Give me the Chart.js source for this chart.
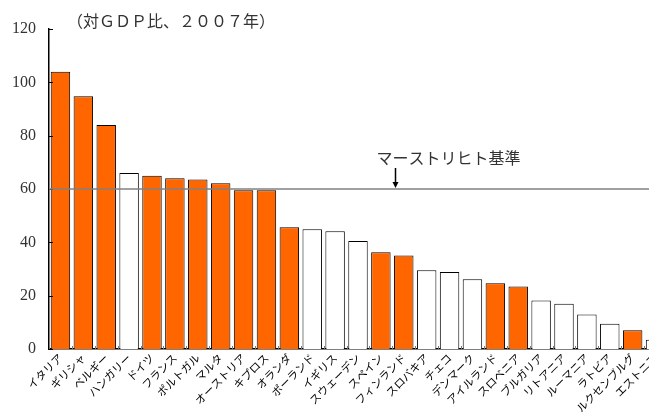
<!DOCTYPE html>
<html><head><meta charset="utf-8">
<script src="https://cdn.jsdelivr.net/npm/chart.js@4"></script>
<style>html,body{margin:0;padding:0;overflow:hidden;background:#fff}#w{width:668px;height:412px}</style>
</head><body><div id="w"><canvas id="c" width="668" height="412"></canvas></div>
<script>
const countries = ["イタリア","ギリシャ","ベルギー","ハンガリー","ドイツ","フランス","ポルトガル","マルタ","オーストリア","キプロス","オランダ","ポーランド","イギリス","スウェーデン","スペイン","フィンランド","スロバキア","チェコ","デンマーク","アイルランド","スロベニア","ブルガリア","リトアニア","ルーマニア","ラトビア","ルクセンブルグ","エストニア"];
const debtRatio = [104.0,94.8,84.0,66.0,65.0,64.0,63.6,62.2,59.5,59.5,45.7,44.9,44.2,40.5,36.3,35.1,29.5,28.9,26.2,24.7,23.4,18.2,17.0,12.9,9.5,7.0,3.5];
const euroMember = [1,1,1,0,1,1,1,1,1,1,1,0,0,0,1,1,0,0,0,1,1,0,0,0,0,1,0];
const yTicks = [0,20,40,60,80,100,120];
const criterion = 60;
const titleText = "（対ＧＤＰ比、２００７年）";
const criterionText = "マーストリヒト基準";

const overlay = {
  id:'overlay',
  afterDraw(chart){
    const ctx = chart.ctx, x = chart.scales.x, y = chart.scales.y, a = chart.chartArea;
    ctx.save();
    ctx.strokeStyle = '#000'; ctx.lineWidth = 1;
    yTicks.forEach(v=>{ const py = Math.round(y.getPixelForValue(v))+0.5; ctx.beginPath(); ctx.moveTo(a.left, py); ctx.lineTo(a.left+4, py); ctx.stroke(); });
    ctx.strokeStyle = '#777';
    for(let i=0;i<countries.length;i++){ const px = Math.round(x.getPixelForValue(i-0.5))+0.5; ctx.beginPath(); ctx.moveTo(px, a.bottom); ctx.lineTo(px, a.bottom-3); ctx.stroke(); }
    const ly = y.getPixelForValue(criterion);
    ctx.strokeStyle = '#808080'; ctx.lineWidth = 1.5;
    ctx.beginPath(); ctx.moveTo(a.left, ly); ctx.lineTo(a.right, ly); ctx.stroke();
    const ax = Math.round(x.getPixelForValue(14.6))+0.5;
    ctx.strokeStyle = '#000'; ctx.fillStyle = '#000'; ctx.lineWidth = 1.5;
    ctx.beginPath(); ctx.moveTo(ax, ly-21); ctx.lineTo(ax, ly-5); ctx.stroke();
    ctx.beginPath(); ctx.moveTo(ax-3, ly-7); ctx.lineTo(ax+3, ly-7); ctx.lineTo(ax, ly-1); ctx.closePath(); ctx.fill();
    ctx.fillStyle = '#333'; ctx.font = '16px "Noto Sans CJK JP"'; ctx.textBaseline = 'middle'; ctx.textAlign = 'left';
    ctx.fillText(criterionText, ax-19, ly-31);
    ctx.fillText(titleText, a.left+18, 21);
    ctx.restore();
  }
};

new Chart(document.getElementById('c'), {
  type:'bar',
  data:{ labels: countries, datasets:[{ data: debtRatio,
    backgroundColor: euroMember.map(m=> m ? '#ff6600' : '#ffffff'),
    borderColor:'#000', borderWidth:1, barPercentage:0.85, categoryPercentage:1 }]},
  options:{
    responsive:false, animation:false,
    layout:{ padding:{ top:29, right:1, left:0, bottom:0 } },
    plugins:{ legend:{display:false}, tooltip:{enabled:false} },
    scales:{
      x:{ grid:{display:false, drawTicks:false}, border:{color:'#000', width:1.5},
          ticks:{ color:'#000', font:{family:'"Noto Sans CJK JP"', size:11}, minRotation:45, maxRotation:45, autoSkip:false, padding:2 },
          afterFit(s){ s.height = 63; } },
      y:{ min:0, max:120, afterBuildTicks(s){ s.ticks = yTicks.map(v=>({value:v})); },
          grid:{display:false, drawTicks:false}, border:{color:'#000', width:1.5},
          ticks:{ color:'#333', font:{family:'"Liberation Serif"', size:16}, padding:13 },
          afterFit(s){ s.width = 49; } }
    }
  },
  plugins:[overlay]
});
</script></body></html>
